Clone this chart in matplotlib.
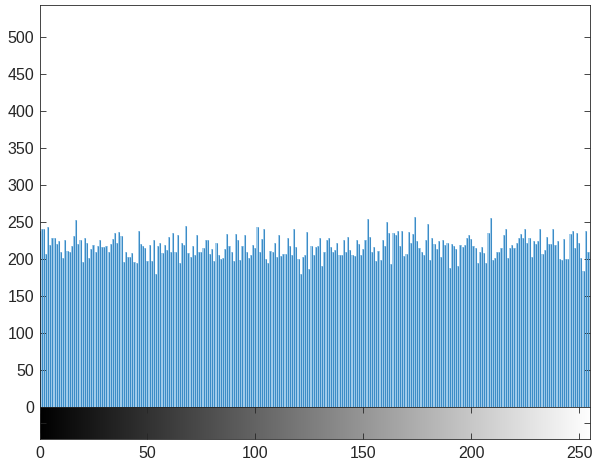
import numpy as np
import matplotlib
matplotlib.use("Agg")
import matplotlib.pyplot as plt

plt.rcParams['font.family'] = ['Liberation Sans', 'DejaVu Sans']

# pixel counts per gray level
counts = [
    238, 240, 240, 206, 243, 219, 228, 228, 220, 224, 210, 201, 226, 211, 209, 217,
    231, 252, 220, 226, 196, 228, 222, 201, 214, 219, 209, 217, 225, 216, 216, 218,
    210, 220, 227, 235, 222, 236, 231, 196, 210, 203, 203, 208, 196, 195, 238, 220,
    217, 215, 197, 219, 197, 225, 180, 217, 221, 208, 219, 212, 229, 209, 235, 209,
    232, 195, 221, 219, 244, 208, 202, 218, 205, 233, 209, 210, 215, 225, 226, 206,
    214, 197, 222, 205, 200, 201, 214, 234, 218, 210, 197, 234, 225, 199, 218, 232,
    209, 201, 205, 219, 215, 243, 209, 227, 240, 200, 195, 211, 210, 221, 202, 233,
    204, 206, 206, 228, 218, 205, 240, 216, 200, 180, 203, 205, 236, 187, 218, 205,
    216, 218, 228, 190, 210, 225, 228, 216, 210, 212, 221, 205, 205, 225, 210, 230,
    212, 205, 204, 225, 220, 205, 213, 225, 254, 229, 210, 216, 197, 211, 198, 225,
    218, 250, 235, 193, 235, 233, 238, 218, 238, 204, 206, 236, 222, 234, 257, 224,
    215, 209, 205, 225, 247, 199, 228, 220, 214, 224, 203, 225, 219, 222, 188, 220,
    217, 214, 190, 219, 216, 219, 228, 233, 227, 218, 215, 195, 209, 216, 208, 194,
    235, 255, 198, 201, 209, 210, 215, 232, 241, 201, 215, 219, 215, 221, 228, 234,
    228, 241, 221, 228, 203, 224, 220, 224, 241, 207, 212, 229, 220, 220, 240, 219,
    224, 200, 198, 227, 200, 200, 234, 238, 215, 235, 221, 201, 184, 238, 209, 209,
]
levels = np.arange(len(counts))
yticks = list(range(0, 501, 50))
xticks = list(range(0, 251, 50))

fig = plt.figure(figsize=(5.94, 4.61), dpi=100)
W, H = 594, 461
left, right = 39.5 / W, 590 / W
ax = fig.add_axes([left, 1 - 407 / H, right - left, (407 - 5) / H])
cb = fig.add_axes([left, 1 - 439 / H, right - left, (439 - 407) / H])

edge = '#262626'

# histogram: light fill plus darker stems
ax.bar(levels, counts, width=1.0, color='#A3CDEB', linewidth=0)
ax.vlines(levels, 0, counts, color='#3C8CC6', linewidth=0.75)
ax.set_xlim(0, 255)
ax.set_ylim(0, 543)
ax.set_yticks(yticks)
ax.set_xticks(xticks)
ax.set_xticklabels([])
ax.tick_params(direction='in', length=4, width=0.6, colors=edge, labelsize=11.5,
               left=True, right=True, top=False, bottom=True, pad=4)
for s in ax.spines.values():
    s.set_color(edge)
    s.set_linewidth(0.6)

# grayscale bar underneath
cb.imshow(levels[None, :], cmap='gray', aspect='auto', extent=(-0.5, 255.5, 0, 1),
          vmin=0, vmax=255)
cb.set_xlim(0, 255)
cb.set_ylim(0, 1)
cb.set_xticks(xticks)
cb.set_yticks([0.5])
cb.set_yticklabels([])
cb.tick_params(direction='in', length=4, width=0.6, colors=edge, labelsize=11.5,
               left=True, right=True, top=True, bottom=True, pad=5)
for s in cb.spines.values():
    s.set_color(edge)
    s.set_linewidth(0.6)

fig.savefig('out.png', dpi=100)
